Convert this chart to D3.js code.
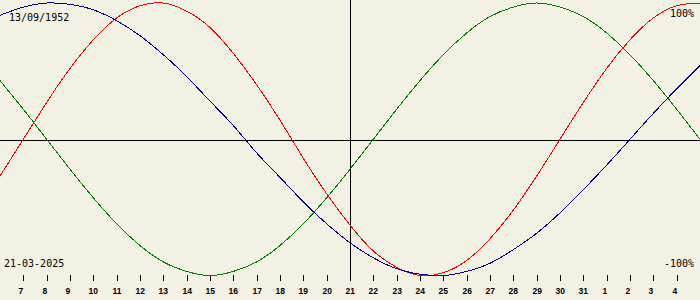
<!DOCTYPE html>
<html>
<head>
<meta charset="utf-8">
<script src="https://cdn.jsdelivr.net/npm/d3@7"></script>
<style>
  html, body { margin: 0; padding: 0; background: #f3f0e4; }
  svg { display: block; }
</style>
</head>
<body>
<svg id="chart" width="700" height="300"></svg>
<script>
// day positions (6 = 6 March ... 36 = 5 April), today = 21
var days = [6, 7, 8, 9, 10, 11, 12, 13, 14, 15, 16, 17, 18, 19, 20, 21,
            22, 23, 24, 25, 26, 27, 28, 29, 30, 31, 32, 33, 34, 35, 36];

// percent values read per day
var physical = [-27, 0, 27, 52, 73, 89, 98, 100, 94, 82, 63, 40, 14, -14, -40, -63,
                -82, -94, -100, -98, -89, -73, -52, -27, 0, 27, 52, 73, 89, 98, 100];
var emotional = [43, 22, 0, -22, -43, -62, -78, -90, -97, -100, -97, -90, -78, -62, -43, -22,
                 0, 22, 43, 62, 78, 90, 97, 100, 97, 90, 78, 62, 43, 22, 0];
var intellectual = [91, 97, 100, 99, 95, 87, 76, 62, 46, 28, 10, -10, -28, -46, -62, -76,
                    -87, -95, -99, -100, -97, -91, -81, -69, -54, -37, -19, 0, 19, 37, 54];

var tickDays = [7, 8, 9, 10, 11, 12, 13, 14, 15, 16, 17, 18, 19, 20, 21, 22, 23, 24, 25,
                26, 27, 28, 29, 30, 31, 32, 33, 34, 35];
var tickLabels = ["7", "8", "9", "10", "11", "12", "13", "14", "15", "16", "17", "18", "19",
                  "20", "21", "22", "23", "24", "25", "26", "27", "28", "29", "30", "31",
                  "1", "2", "3", "4"];

var today = 21;
var birthLabel = "13/09/1952";
var todayLabel = "21-03-2025";

var svg = d3.select("#chart");

var x = d3.scaleLinear().domain([6, 36]).range([0, 700]);
var y = d3.scaleLinear().domain([-100, 100]).range([275.5, 3]);

// axes
svg.append("line")
  .attr("x1", 0).attr("x2", 700)
  .attr("y1", 140.5).attr("y2", 140.5)
  .attr("stroke", "#000");

svg.append("line")
  .attr("x1", Math.round(x(today)) + 0.5).attr("x2", Math.round(x(today)) + 0.5)
  .attr("y1", 0).attr("y2", 281)
  .attr("stroke", "#000");

// day ticks
var ticks = svg.append("g");
tickDays.forEach(function(d, i) {
  var tx = Math.round(x(d)) + 0.5;
  ticks.append("line")
    .attr("x1", tx).attr("x2", tx)
    .attr("y1", 275).attr("y2", 281)
    .attr("stroke", "#000");
  ticks.append("text")
    .attr("x", tx - 5)
    .attr("y", 294)
    .attr("font-family", "Liberation Sans, Arial, sans-serif")
    .attr("font-weight", "bold")
    .attr("font-size", "8.5px")
    .text(tickLabels[i]);
});

// curves, drawn aliased like the original
var line = d3.line()
  .x(function(d, i) { return x(days[i]); })
  .y(function(d) { return y(d); })
  .curve(d3.curveNatural);

[[physical, "#ff0000"], [emotional, "#008000"], [intellectual, "#00008c"]].forEach(function(s) {
  svg.append("path")
    .datum(s[0])
    .attr("d", line)
    .attr("fill", "none")
    .attr("stroke", s[1])
    .attr("stroke-width", 1)
    .attr("shape-rendering", "crispEdges");
});

// labels
var mono = "DejaVu Sans Mono, monospace";
svg.append("text").attr("x", 9).attr("y", 21)
  .attr("font-family", mono).attr("font-size", "10px").text(birthLabel);
svg.append("text").attr("x", 4).attr("y", 267)
  .attr("font-family", mono).attr("font-size", "10px").text(todayLabel);
svg.append("text").attr("x", 694).attr("y", 17).attr("text-anchor", "end")
  .attr("font-family", mono).attr("font-size", "10px").text("100%");
svg.append("text").attr("x", 694).attr("y", 267).attr("text-anchor", "end")
  .attr("font-family", mono).attr("font-size", "10px").text("-100%");
</script>
</body>
</html>
